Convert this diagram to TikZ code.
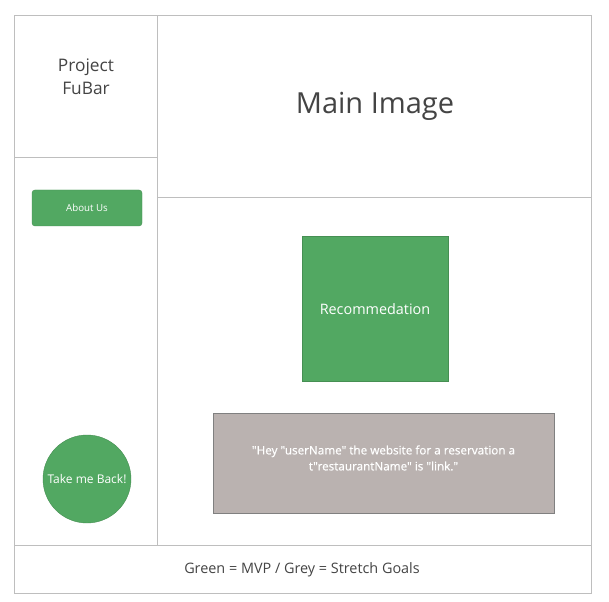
\documentclass[tikz,border=0pt]{standalone}
\usepackage{fontspec}
\setmainfont{Open Sans}
\newfontfamily\rawfont{Open Sans}[FakeBold=0.6]
\definecolor{mvp}{RGB}{82,168,98}
\definecolor{stretch}{RGB}{186,178,176}
\definecolor{frame}{RGB}{190,190,190}
\definecolor{txt}{RGB}{68,68,68}
\tikzset{
  panel/.style={draw=frame, line width=0.8pt, fill=white},
  greenbox/.style={fill=mvp, draw=mvp!85!black, line width=0.4pt, text=white},
  greybox/.style={fill=stretch, draw=gray, line width=0.8pt, text=white},
}
\begin{document}
\begin{tikzpicture}[x=1pt,y=-1pt]
\useasboundingbox (0,0) rectangle (609,601);
% panels
\node[panel, minimum width=577pt, minimum height=48pt, anchor=north west] (footer) at (14,545) {};
\node[panel, minimum width=143pt, minimum height=388pt, anchor=north west] (left) at (14,157) {};
\node[panel, minimum width=434pt, minimum height=348pt, anchor=north west] (content) at (157,197) {};
\node[panel, minimum width=434pt, minimum height=182pt, anchor=north west] (main) at (157,15) {};
\node[panel, minimum width=143pt, minimum height=142pt, anchor=north west] (logo) at (14,15) {};
% texts
\node[text=txt, font=\fontsize{17.3}{23}\selectfont, align=center] (logotext) at (86,77) {Project\\FuBar};
\node[text=txt, font=\fontsize{29}{33}\selectfont] (maintext) at (375,106) {Main Image};
\node[text=txt, font=\fontsize{14.4}{17}\selectfont] (foottext) at (302,570) {Green = MVP / Grey = Stretch Goals};
% elements
\node[greenbox, rounded corners=3pt, minimum width=110pt, minimum height=36pt, font=\fontsize{9.7}{11}\selectfont] (about) at (87,208) {About Us};
\node[greenbox, minimum width=146pt, minimum height=145pt, font=\fontsize{14.4}{17}\selectfont] (rec) at (375,309) {Recommedation};
\node[greybox, minimum width=341pt, minimum height=100pt] (msg) at (383.5,463) {};
\node[text=white, font=\rawfont\fontsize{11.7}{16}\selectfont, align=center] (msgtext) at (383.5,458) {"Hey "userName" the website for a reservation a\\t"restaurantName" is "link."};
\node[greenbox, circle, minimum size=88pt, inner sep=0pt, font=\fontsize{12}{14}\selectfont] (back) at (87,479) {Take me Back!};
\end{tikzpicture}
\end{document}
